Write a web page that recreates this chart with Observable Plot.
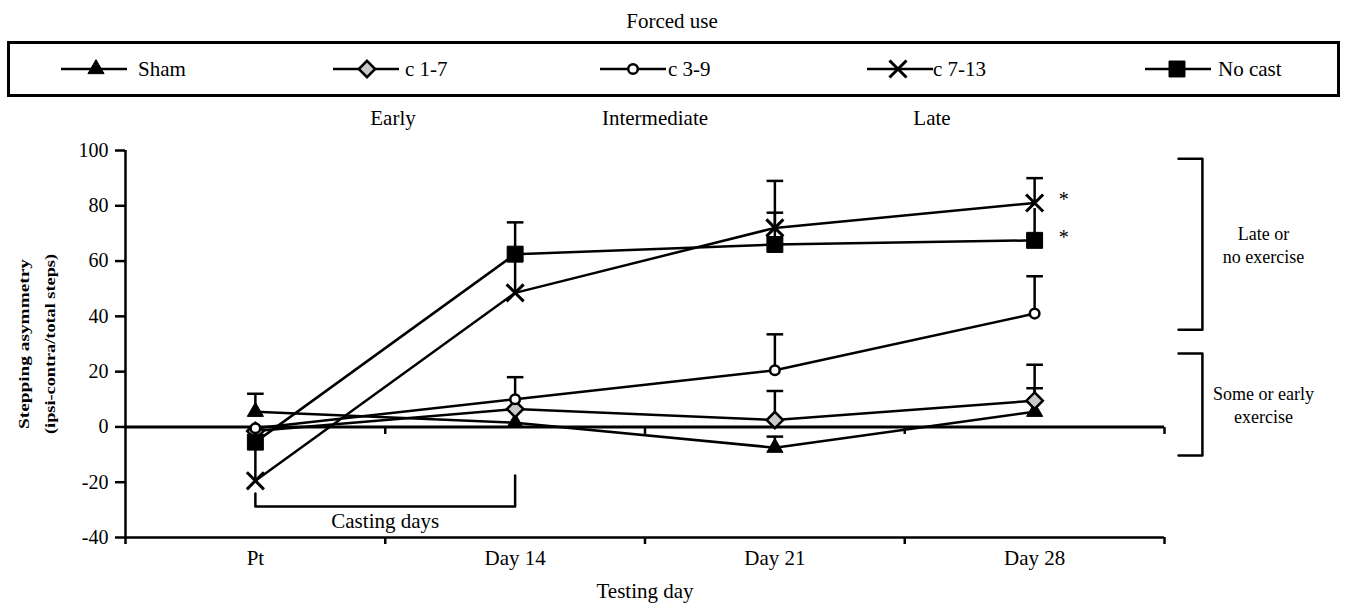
<!DOCTYPE html>
<html><head><meta charset="utf-8">
<script src="https://cdn.jsdelivr.net/npm/d3@7"></script>
<script src="https://cdn.jsdelivr.net/npm/@observablehq/plot@0.6"></script>
<style>
body{margin:0;background:#fff;}
#wrap{width:1351px;height:608px;position:relative;overflow:hidden;font-family:"Liberation Serif",serif;background:#fff}
#wrap svg{display:block}
#wrap svg text{font-family:"Liberation Serif",serif}
</style>
</head><body><div id="wrap"></div>
<script>
// ---- data ----
const days = ["Pt", "Day 14", "Day 21", "Day 28"];
const seriesNames = ["Sham", "c 1-7", "c 3-9", "c 7-13", "No cast"];
const shamMean   = [5.5, 1.5, -7.5, 5.5];
const shamErr    = [12, null, -3.5, 14];
const c17Mean    = [-1.5, 6.5, 2.5, 9.5];
const c17Err     = [null, null, 13, 22.5];
const c39Mean    = [-0.5, 10, 20.5, 41];
const c39Err     = [null, 18, 33.5, 54.5];
const c713Mean   = [-19.5, 48.5, 72, 81];
const c713Err    = [-7, 61, 89, 90];
const noCastMean = [-5.5, 62.5, 66, 67.5];
const noCastErr  = [null, 74, 77.5, 79];
const yTicks = [-40, -20, 0, 20, 40, 60, 80, 100];
const phases = ["Early", "Intermediate", "Late"];
const significant = ["c 7-13", "No cast"];
const groups = [
  {label: "Late or\nno exercise", top: 97, bottom: 35.2},
  {label: "Some or early\nexercise", top: 26.6, bottom: -10.3}
];
const casting = {from: "Pt", to: "Day 14", label: "Casting days", left: -24.1, right: -17.6, base: -28.8};
const yLabel = ["Stepping asymmetry", "(ipsi-contra/total steps)"];

// ---- build tables ----
const means = [shamMean, c17Mean, c39Mean, c713Mean, noCastMean];
const errs = [shamErr, c17Err, c39Err, c713Err, noCastErr];
const rows = seriesNames.flatMap((s, k) => days.map((d, i) => ({series: s, day: d, x: i + 0.5, v: means[k][i], err: errs[k][i]})));
const errRows = rows.filter(r => r.err != null);
const capRows = errRows.filter(r => !rows.some(o => o.day === r.day && o.series !== r.series && Math.abs(o.v - r.err) < 3));

const styles = {
  "Sham":    {symbol: "triangle", r: 6, fill: "black", stroke: "black", strokeWidth: 1},
  "c 1-7":   {symbol: "diamond2", r: 7.4, fill: "#c8c8c8", stroke: "black", strokeWidth: 2.5},
  "c 3-9":   {symbol: "circle", r: 4.8, fill: "white", stroke: "black", strokeWidth: 2.5},
  "c 7-13":  {symbol: "times", r: 7.8, fill: "none", stroke: "black", strokeWidth: 3},
  "No cast": {symbol: "square", r: 9, fill: "black", stroke: "black", strokeWidth: 1}
};
const d3sym = {triangle: d3.symbolTriangle, diamond2: d3.symbolDiamond2, circle: d3.symbolCircle, times: d3.symbolTimes, square: d3.symbolSquare};

const capSymbol = {draw(ctx, size) { const r = Math.sqrt(size / Math.PI); ctx.moveTo(-r, 0); ctx.lineTo(r, 0); }};
const tickDown = {draw(ctx, size) { const r = Math.sqrt(size / Math.PI); ctx.moveTo(0, 0); ctx.lineTo(0, r); }};

const FONT = '"Liberation Serif", serif';

// ---- header (title + legend) ----
const wrap = d3.select("#wrap");
const header = wrap.append("svg").attr("width", 1351).attr("height", 130);
header.append("text").attr("x", 672).attr("y", 28).attr("text-anchor", "middle").attr("font-size", 21).attr("font-family", FONT).text("Forced use");
header.append("rect").attr("x", 8.5).attr("y", 42.5).attr("width", 1330).attr("height", 53)
  .attr("fill", "none").attr("stroke", "black").attr("stroke-width", 3);
const legX = [61, 333, 600, 867, 1145];
const legM = [96, 367, 633, 898, 1177];
const legT = [138, 405, 668, 933, 1218];
seriesNames.forEach((s, k) => {
  const st = styles[s];
  const g = header.append("g");
  g.append("line").attr("x1", legX[k]).attr("x2", legX[k] + 66).attr("y1", 69).attr("y2", 69).attr("stroke", "black").attr("stroke-width", 2.5);
  g.append("path").attr("transform", `translate(${legM[k]},69)`)
    .attr("d", d3.symbol(d3sym[st.symbol], st.r * st.r * Math.PI)())
    .attr("fill", st.fill).attr("stroke", st.stroke).attr("stroke-width", st.strokeWidth);
  g.append("text").attr("x", legT[k]).attr("y", 76).attr("font-size", 21).attr("font-family", FONT).text(s);
});
const phaseX = [393, 655, 932];
phases.forEach((p, i) => header.append("text").attr("x", phaseX[i]).attr("y", 125).attr("text-anchor", "middle").attr("font-size", 21).attr("font-family", FONT).text(p));

// ---- chart ----
const dayX = d => days.indexOf(d) + 0.5;
const bracketLines = groups.flatMap(g => [
  {g: g.label, x: 4.054, y: g.top}, {g: g.label, x: 4.146, y: g.top},
  {g: g.label, x: 4.146, y: g.bottom}, {g: g.label, x: 4.054, y: g.bottom}
]);
const castLine = [
  {x: dayX(casting.from), y: casting.left}, {x: dayX(casting.from), y: casting.base},
  {x: dayX(casting.to), y: casting.base}, {x: dayX(casting.to), y: casting.right}
];

const chart = Plot.plot({
  width: 1351, height: 478,
  marginTop: 20, marginBottom: 71, marginLeft: 125, marginRight: 187,
  x: {domain: [0, days.length], axis: null},
  y: {domain: [-40, 100], axis: null},
  style: {fontFamily: FONT, fontSize: "20px", color: "black", background: "white", overflow: "visible"},
  marks: [
    Plot.axisY({ticks: yTicks, tickSize: 10, tickPadding: 7, tickFormat: d => String(d), strokeWidth: 2.5, fontSize: 20, fontFamily: FONT, label: null}),
    Plot.axisX({ticks: d3.range(0, days.length + 1), tickSize: 7, tickFormat: () => "", strokeWidth: 2.5, label: null}),
    Plot.ruleX([0], {y1: -40, y2: 100, strokeWidth: 2.5}),
    Plot.ruleY([-40], {x1: 0, x2: days.length, strokeWidth: 2.5}),
    Plot.ruleY([0], {x1: 0, x2: days.length, strokeWidth: 3}),
    Plot.dot(d3.range(1, days.length + 1), {x: d => d, y: () => 0, symbol: tickDown, r: 7, stroke: "black", strokeWidth: 2.5, fill: "none"}),
    Plot.text(days, {x: (d, i) => i + 0.5, y: () => -40, dy: 21, text: d => d, fontSize: 21, fontFamily: FONT}),
    Plot.text(["Testing day"], {x: () => days.length / 2, y: () => -40, dy: 54, text: d => d, fontSize: 21, fontFamily: FONT}),
    Plot.text([yLabel[0]], {x: () => 0, y: () => 30, dx: -101, rotate: -90, text: d => d, fontSize: 14, fontWeight: "bold", fontFamily: FONT}),
    Plot.text([yLabel[1]], {x: () => 0, y: () => 30, dx: -75, rotate: -90, text: d => d, fontSize: 14, fontWeight: "bold", fontFamily: FONT}),
    // casting days bracket
    Plot.line(castLine, {x: "x", y: "y", stroke: "black", strokeWidth: 2.5}),
    Plot.text([casting.label], {x: () => (dayX(casting.from) + dayX(casting.to)) / 2, y: () => -34, text: d => d, fontSize: 21, fontFamily: FONT}),
    // group brackets
    Plot.line(bracketLines, {x: "x", y: "y", z: "g", stroke: "black", strokeWidth: 2.5}),
    Plot.text(groups, {x: () => days.length, dx: 99, y: d => (d.top + d.bottom) / 2, text: "label", textAnchor: "middle", fontSize: 18, lineHeight: 1.25, fontFamily: FONT}),
    // data
    Plot.line(rows, {x: "x", y: "v", z: "series", stroke: "black", strokeWidth: 2.5}),
    Plot.ruleX(errRows, {x: "x", y1: "v", y2: "err", stroke: "black", strokeWidth: 2.5}),
    Plot.dot(capRows, {x: "x", y: "err", symbol: capSymbol, r: 8.3, stroke: "black", strokeWidth: 2.5, fill: "none"}),
    ...seriesNames.map(s => Plot.dot(rows.filter(r => r.series === s), {x: "x", y: "v", ...styles[s]})),
    Plot.text(rows.filter(r => r.day === days[days.length - 1] && significant.includes(r.series)), {x: "x", y: "v", text: () => "*", dx: 29, dy: -3, fontSize: 20, fontFamily: FONT})
  ]
});
wrap.node().appendChild(chart);
const yLens = [170, 180];
d3.select(chart).selectAll("text").each(function() {
  const k = yLabel.indexOf(this.textContent);
  if (k >= 0) d3.select(this).attr("textLength", yLens[k]).attr("lengthAdjust", "spacingAndGlyphs");
});
</script>
</body></html>
